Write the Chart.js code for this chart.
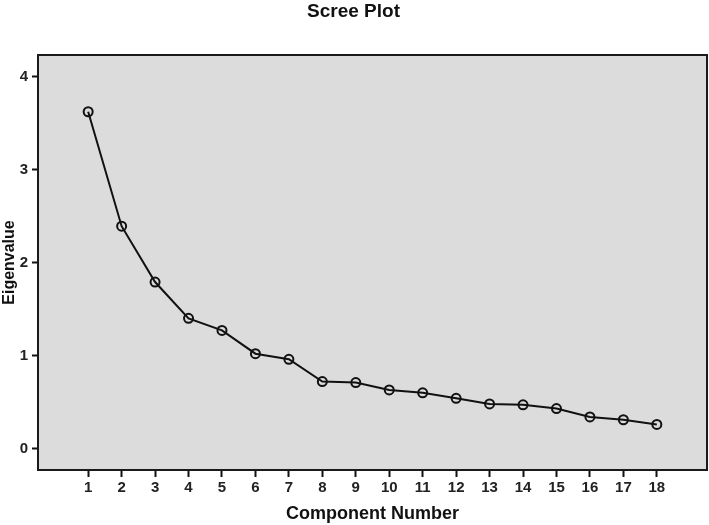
<!DOCTYPE html>
<html>
<head>
<meta charset="utf-8">
<title>Scree Plot</title>
<script src="https://cdn.jsdelivr.net/npm/chart.js@4/dist/chart.umd.min.js"></script>
<style>
  html, body { margin: 0; padding: 0; background: #fff; }
  #wrap { width: 709px; height: 525px; position: relative; }
</style>
</head>
<body>
<div id="wrap"><canvas id="scree"></canvas></div>
<script>
const components = [1, 2, 3, 4, 5, 6, 7, 8, 9, 10, 11, 12, 13, 14, 15, 16, 17, 18];
const eigenvalues = [3.62, 2.39, 1.79, 1.40, 1.27, 1.02, 0.96, 0.72, 0.71, 0.63, 0.60, 0.54, 0.48, 0.47, 0.43, 0.34, 0.31, 0.26];
const yTicks = [0, 1, 2, 3, 4];

const fontFamily = '"Liberation Sans", Arial, Helvetica, sans-serif';

// grey plot background with a black frame, like the SPSS output
const plotFrame = {
  id: 'plotFrame',
  beforeDatasetsDraw(chart) {
    const { ctx, chartArea: a } = chart;
    ctx.save();
    ctx.fillStyle = '#dcdcdc';
    ctx.fillRect(a.left, a.top, a.right - a.left, a.bottom - a.top);
    ctx.restore();
  },
  afterDatasetsDraw(chart) {
    const { ctx, chartArea: a } = chart;
    ctx.save();
    ctx.strokeStyle = '#1a1a1a';
    ctx.lineWidth = 2;
    ctx.strokeRect(a.left, a.top, a.right - a.left, a.bottom - a.top);
    ctx.restore();
  }
};

const ctx = document.getElementById('scree').getContext('2d');
new Chart(ctx, {
  type: 'scatter',
  data: {
    datasets: [{
      data: components.map((c, i) => ({ x: c, y: eigenvalues[i] })),
      showLine: true,
      borderColor: '#111',
      borderWidth: 2,
      tension: 0,
      pointRadius: 4.5,
      pointBorderWidth: 2,
      pointBorderColor: '#111',
      pointBackgroundColor: 'rgba(0,0,0,0)'
    }]
  },
  options: {
    responsive: true,
    maintainAspectRatio: false,
    animation: false,
    layout: { autoPadding: false, padding: { left: 0, top: 0, bottom: 0, right: 2 } },
    plugins: {
      legend: { display: false },
      tooltip: { enabled: false },
      title: {
        display: true,
        text: 'Scree Plot',
        color: '#111',
        font: { family: fontFamily, size: 19, weight: 'bold' },
        padding: { top: 0, bottom: 32.2 }
      }
    },
    scales: {
      x: {
        type: 'linear',
        min: -0.5,
        max: 19.5,
        afterBuildTicks: s => { s.ticks = components.map(v => ({ value: v })); },
        afterFit: s => { s.height = 55; s.paddingLeft = 0; s.paddingRight = 0; },
        grid: { drawOnChartArea: false, drawTicks: true, tickLength: 7, tickColor: '#111', tickWidth: 2 },
        border: { display: false },
        ticks: {
          color: '#222',
          padding: 2,
          maxRotation: 0,
          autoSkip: false,
          font: { family: fontFamily, size: 15, weight: 'bold' }
        },
        title: {
          display: true,
          text: 'Component Number',
          color: '#111',
          padding: { top: 0, bottom: 0 },
          font: { family: fontFamily, size: 18, weight: 'bold' }
        }
      },
      y: {
        min: -0.23,
        max: 4.23,
        afterBuildTicks: s => { s.ticks = yTicks.map(v => ({ value: v })); },
        afterFit: s => { s.width = 38; },
        grid: { drawOnChartArea: false, drawTicks: true, tickLength: 6, tickColor: '#111', tickWidth: 2 },
        border: { display: false },
        ticks: {
          color: '#222',
          padding: 4,
          font: { family: fontFamily, size: 15, weight: 'bold' }
        },
        title: {
          display: true,
          text: 'Eigenvalue',
          color: '#111',
          padding: { top: 0, bottom: 0 },
          font: { family: fontFamily, size: 16, weight: 'bold' }
        }
      }
    }
  },
  plugins: [plotFrame]
});
</script>
</body>
</html>
